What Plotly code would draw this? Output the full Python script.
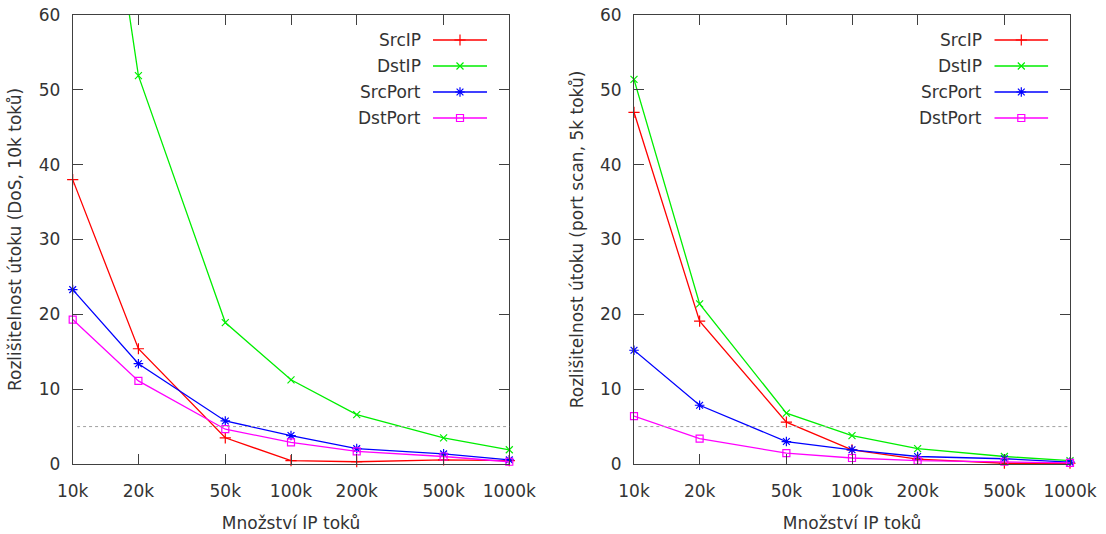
import plotly.graph_objects as go

# ---- data ----
flows = [10000, 20000, 50000, 100000, 200000, 500000, 1000000]
flow_labels = ["10k", "20k", "50k", "100k", "200k", "500k", "1000k"]

dos_srcip = [38.0, 15.4, 3.5, 0.45, 0.3, 0.55, 0.45]
dos_dstip = [111.0, 51.9, 18.9, 11.25, 6.6, 3.5, 1.9]
dos_srcport = [23.3, 13.4, 5.75, 3.8, 2.05, 1.35, 0.55]
dos_dstport = [19.3, 11.1, 4.65, 2.9, 1.7, 1.0, 0.3]

ps_srcip = [47.0, 19.1, 5.6, 1.9, 0.65, 0.1, 0.1]
ps_dstip = [51.4, 21.4, 6.8, 3.8, 2.05, 1.0, 0.45]
ps_srcport = [15.2, 7.85, 3.0, 1.9, 1.0, 0.7, 0.25]
ps_dstport = [6.4, 3.4, 1.45, 0.8, 0.45, 0.3, 0.15]

threshold = 5
series_names = ["SrcIP", "DstIP", "SrcPort", "DstPort"]
colors = ["#ff0000", "#00ee00", "#0000ff", "#ff00ff"]
symbols = ["cross-thin", "x-thin", "asterisk", "square-open"]
msizes = [8, 7, 8, 7]

W, H = 1106, 534
FONT = "DejaVu Sans"
TXT = "#333333"
AX = "#404040"

fig = go.Figure()

panels = [
    dict(xa="x", ya="y", data=[dos_srcip, dos_dstip, dos_srcport, dos_dstport]),
    dict(xa="x2", ya="y2", data=[ps_srcip, ps_dstip, ps_srcport, ps_dstport]),
]

for p in panels:
    for i, vals in enumerate(p["data"]):
        fig.add_trace(go.Scatter(
            x=flows, y=vals, mode="lines+markers", name=series_names[i],
            xaxis=p["xa"], yaxis=p["ya"], showlegend=False, cliponaxis=False,
            line=dict(color=colors[i], width=1.3),
            marker=dict(symbol=symbols[i], size=msizes[i], color=colors[i],
                        line=dict(color=colors[i], width=1.2)),
        ))

# gnuplot-style key drawn on overlay axes
key_axes = [("x3", "y3", 433, 422.7), ("x4", "y4", 994.3, 984.0)]
for xa, ya, _, _ in key_axes:
    for i in range(4):
        fig.add_trace(go.Scatter(
            x=[0, 1], y=[i, i], mode="lines", xaxis=xa, yaxis=ya, showlegend=False,
            line=dict(color=colors[i], width=1.3), hoverinfo="skip"))
        fig.add_trace(go.Scatter(
            x=[0.5], y=[i], mode="markers", xaxis=xa, yaxis=ya, showlegend=False,
            marker=dict(symbol=symbols[i], size=msizes[i], color=colors[i],
                        line=dict(color=colors[i], width=1.2)), hoverinfo="skip"))

annotations = []
for xa, ya, _, txt_right in key_axes:
    for i, nm in enumerate(series_names):
        annotations.append(dict(
            text=nm, xref="paper", x=txt_right / W, xanchor="right",
            yref=ya, y=i, yanchor="middle", showarrow=False,
            font=dict(family=FONT, size=17, color=TXT)))

y_top, y_bot = 15, 464
ydom = [1 - y_bot / H, 1 - y_top / H]
xdoms = [[72.7 / W, 509.3 / W], [634 / W, 1070 / W]]


def xaxis_cfg(dom, anchor):
    return dict(
        domain=dom, anchor=anchor, type="log", range=[4, 6], tickvals=flows,
        ticktext=flow_labels, automargin=False,
        ticks="inside", ticklen=10, tickcolor=AX, mirror="allticks",
        showline=True, linecolor=AX, linewidth=1, showgrid=False, zeroline=False,
        tickfont=dict(family=FONT, size=17, color=TXT), ticklabelstandoff=12,
        title=dict(text="Množství IP toků", font=dict(family=FONT, size=17, color=TXT),
                   standoff=16),
    )


def yaxis_cfg(anchor, title):
    return dict(
        domain=ydom, anchor=anchor, range=[0, 60], dtick=10, automargin=False,
        ticks="inside", ticklen=10, tickcolor=AX, mirror="allticks",
        showline=True, linecolor=AX, linewidth=1, showgrid=False, zeroline=False,
        tickfont=dict(family=FONT, size=17, color=TXT), ticklabelstandoff=8,
        title=dict(text=title, font=dict(family=FONT, size=17, color=TXT), standoff=12),
    )


def key_x(left, anchor):
    return dict(domain=[left / W, (left + 54) / W], range=[0, 1], visible=False,
                fixedrange=True, anchor=anchor, automargin=False)


def key_y(anchor):
    return dict(domain=[1 - 128 / H, 1 - 30 / H], range=[128 / 26 - 40 / 26, -10 / 26],
                visible=False, fixedrange=True, anchor=anchor, automargin=False)


shapes = []
for xr, yr in [("x domain", "y"), ("x2 domain", "y2")]:
    shapes.append(dict(type="line", xref=xr, yref=yr, x0=0.01, x1=1, y0=threshold,
                       y1=threshold, line=dict(color="#a0a0a0", width=1, dash="dot")))

fig.update_layout(
    width=W, height=H, margin=dict(l=0, r=0, t=0, b=0, autoexpand=False),
    paper_bgcolor="white", plot_bgcolor="white",
    xaxis=xaxis_cfg(xdoms[0], "y"),
    yaxis=yaxis_cfg("x", "Rozlišitelnost útoku (DoS, 10k toků)"),
    xaxis2=xaxis_cfg(xdoms[1], "y2"),
    yaxis2=yaxis_cfg("x2", "Rozlišitelnost útoku (port scan, 5k toků)"),
    xaxis3=key_x(433, "y3"), yaxis3=key_y("x3"),
    xaxis4=key_x(994.3, "y4"), yaxis4=key_y("x4"),
    annotations=annotations, shapes=shapes, showlegend=False,
)

fig.write_html("out.html")
